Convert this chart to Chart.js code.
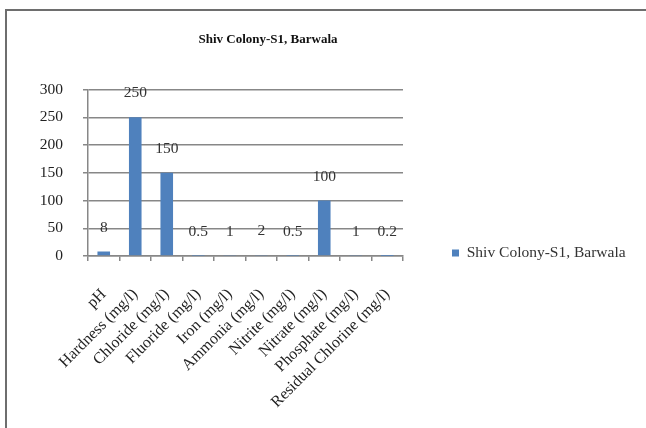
<!DOCTYPE html>
<html>
<head>
<meta charset="utf-8">
<script src="https://cdn.jsdelivr.net/npm/chart.js@4"></script>
<style>
  html, body { margin: 0; padding: 0; background: #fff; overflow: hidden; }
  #frame {
    position: absolute; left: 5px; top: 9px; width: 700px; height: 500px;
    border-top: 2px solid #6e6e6e; border-left: 2px solid #6e6e6e;
  }
  #chart { position: absolute; left: 0; top: 0; }
</style>
</head>
<body>
<div id="frame"></div>
<canvas id="chart" width="646" height="428"></canvas>
<script>
// data
const categories = ['pH', 'Hardness (mg/l)', 'Chloride (mg/l)', 'Fluoride (mg/l)', 'Iron (mg/l)',
  'Ammonia (mg/l)', 'Nitrite (mg/l)', 'Nitrate (mg/l)', 'Phosphate (mg/l)', 'Residual Chlorine (mg/l)'];
const values = [8, 250, 150, 0.5, 1, 2, 0.5, 100, 1, 0.2];
const seriesName = 'Shiv Colony-S1, Barwala';
const chartTitle = 'Shiv Colony-S1, Barwala';
const yMin = 0;
const yMax = 300;
const yStep = 50;

const serif = 'Liberation Serif';
const gridGrey = '#878787';
const textSize = 15.5;

// layout numbers: plot spans x 88..403, legend swatch at x 452
const plotLeft = 88, plotRight = 403;
const legendBox = 7;
const legendPad = 452 - plotRight;
const canvasEl = document.getElementById('chart');
const mctx = canvasEl.getContext('2d');
mctx.font = 'normal ' + textSize + 'px ' + serif;
// chart.js sizes a right legend as padding + box + font/2 + text + 10
const legendW = legendPad + legendBox + textSize / 2 + mctx.measureText(seriesName).width + 10;
const padRight = canvasEl.width - plotRight - legendW;
// title is centred over the part left of the legend, so push the left edge out
const padLeft = padRight - 110;

// value labels above each bar
const valueLabels = {
  id: 'valueLabels',
  afterDatasetsDraw(chart) {
    const ctx = chart.ctx;
    const meta = chart.getDatasetMeta(0);
    ctx.save();
    ctx.font = textSize + 'px "' + serif + '"';
    ctx.fillStyle = '#333';
    ctx.textAlign = 'center';
    ctx.textBaseline = 'middle';
    meta.data.forEach((bar, i) => {
      ctx.fillText(String(values[i]), bar.x, bar.y - 24);
    });
    ctx.restore();
  }
};

new Chart(canvasEl, {
  type: 'bar',
  data: {
    labels: categories,
    datasets: [{
      label: seriesName,
      data: values,
      backgroundColor: '#4f81bd',
      borderWidth: 0,
      barPercentage: 0.4,
      categoryPercentage: 1.0
    }]
  },
  options: {
    responsive: false,
    animation: false,
    devicePixelRatio: 1,
    layout: { padding: { left: padLeft, top: 0, right: padRight, bottom: -78 } },
    plugins: {
      title: {
        display: true,
        text: chartTitle,
        color: '#111',
        font: { family: serif, size: 13, weight: 'bold' },
        padding: { top: 32, bottom: 42 }
      },
      legend: {
        position: 'right',
        align: 'center',
        maxWidth: 400,
        labels: {
          boxWidth: legendBox,
          boxHeight: legendBox,
          padding: legendPad,
          color: '#333',
          font: { family: serif, size: textSize }
        }
      },
      tooltip: { enabled: false }
    },
    scales: {
      x: {
        grid: { offset: true, drawOnChartArea: false, drawTicks: true, tickLength: 5, color: gridGrey, lineWidth: 1.5 },
        border: { color: gridGrey, width: 1.5 },
        ticks: {
          minRotation: 45, maxRotation: 45, autoSkip: false, padding: 24,
          color: '#222', font: { family: serif, size: 16 }
        },
        afterFit(scale) { scale.height = 250; }
      },
      y: {
        min: yMin,
        max: yMax,
        grid: { color: gridGrey, lineWidth: 1.5, tickLength: 5 },
        border: { color: gridGrey, width: 1.5 },
        ticks: {
          stepSize: yStep, padding: 20,
          color: '#222', font: { family: serif, size: textSize }
        },
        afterFit(scale) { scale.width = plotLeft - padLeft; }
      }
    }
  },
  plugins: [valueLabels]
});
</script>
</body>
</html>
